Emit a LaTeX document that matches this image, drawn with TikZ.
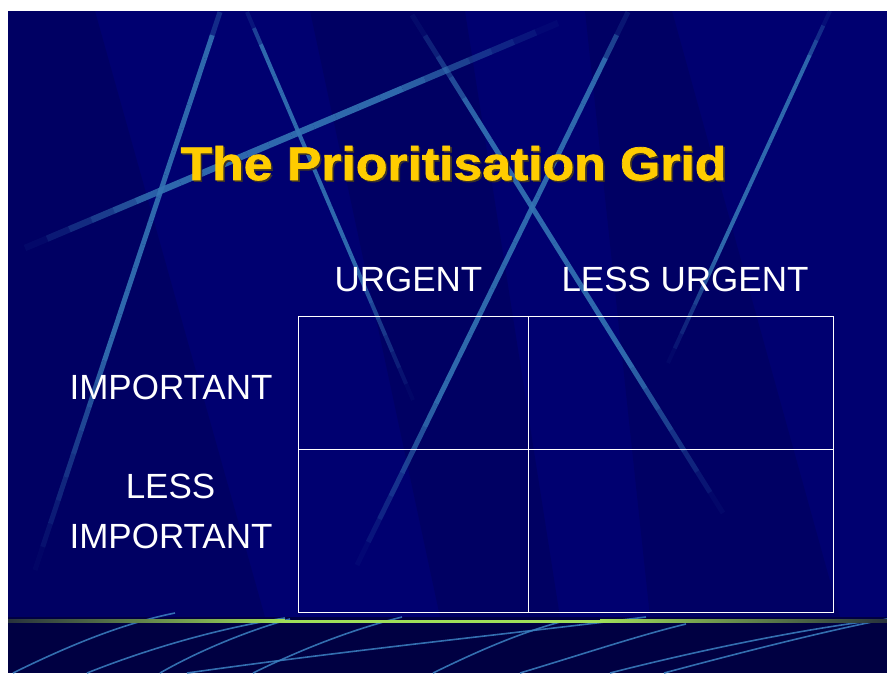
\documentclass[tikz,border=0pt]{standalone}
\usepackage{fontspec}
\setmainfont{Liberation Sans}
\newfontfamily\titlefont[FakeStretch=1.1,BoldFeatures={FakeBold=1.6}]{Liberation Sans}
\usetikzlibrary{calc}
\definecolor{navy}{RGB}{0,0,112}
\definecolor{navydark}{RGB}{0,0,72}
\definecolor{bandcol}{RGB}{0,0,66}
\definecolor{streakcol}{RGB}{52,116,180}
\definecolor{curvecol}{RGB}{60,130,195}
\definecolor{titleyellow}{RGB}{255,204,0}
\definecolor{titleshadow}{RGB}{60,50,40}
\definecolor{greenline}{RGB}{160,222,90}
\definecolor{greendark}{RGB}{40,50,60}
\newcommand\bgstreak[5]{%
  \foreach \i in {0,...,23}{%
    \pgfmathsetmacro\sta{\i/24}%
    \pgfmathsetmacro\stb{(\i+1)/24}%
    \pgfmathsetmacro\sop{0.9*min(1,(\i+0.5)/(24*#4))*min(1,(23.5-\i)/(24*#5))}%
    \draw[streak, line width=#3, draw opacity=\sop] ($#1!\sta!#2$) -- ($#1!\stb!#2$);
  }}
\newcommand\shadowedtitle[1]{\makebox[0pt][l]{\hspace{1.6pt}\raisebox{-1.6pt}{\color{titleshadow}#1}}#1}
\begin{document}
\begin{tikzpicture}[x=1pt,y=-1pt,
  streak/.style={draw=streakcol, line cap=butt},
  curveline/.style={draw=curvecol, line width=1.6pt, draw opacity=0.85},
  cell/.style={draw=white, line width=1pt, inner sep=0pt, outer sep=0pt, anchor=north west},
  label/.style={text=white, font=\fontsize{35}{40}\selectfont, anchor=base, inner sep=0pt},
  titletext/.style={font=\titlefont\bfseries\fontsize{47}{52}\selectfont, anchor=base, inner sep=0pt}]
\useasboundingbox (0,0) rectangle (887,673);
\fill[white] (0,0) rectangle (887,673);
% slide background
\fill[navy] (8,11) rectangle (887,673);
\fill[navydark, opacity=0.3] (8,11) -- (95,11) -- (265,617) -- (8,617) -- cycle;
\fill[navydark, opacity=0.3] (310,11) -- (465,11) -- (560,617) -- (440,617) -- cycle;
\fill[navydark, opacity=0.28] (585,11) -- (672,11) -- (840,617) -- (650,617) -- cycle;
% streaks
\bgstreak{(25,248)}{(558,23)}{6.5pt}{0.25}{0.3}
\bgstreak{(220,12)}{(35,570)}{5pt}{0.05}{0.4}
\bgstreak{(247,12)}{(413,400)}{4pt}{0.1}{0.35}
\bgstreak{(412,15)}{(723,513)}{5pt}{0.2}{0.3}
\bgstreak{(628,12)}{(357,565)}{5pt}{0.1}{0.3}
\bgstreak{(830,11)}{(668,363)}{4pt}{0.15}{0.3}
% bottom band
\fill[bandcol] (8,617) rectangle (887,673);
\begin{scope}
\clip (8,611) rectangle (887,673);
\draw[curveline] (13,673) .. controls (80,640) and (130,622) .. (175,613);
\draw[curveline] (87,673) .. controls (150,648) and (220,628) .. (285,618);
\draw[curveline] (160,673) .. controls (200,650) and (250,630) .. (290,619);
\draw[curveline] (187,673) .. controls (350,650) and (500,635) .. (646,617);
\draw[curveline] (253,673) .. controls (300,650) and (350,630) .. (402,617);
\draw[curveline] (433,673) .. controls (480,650) and (520,633) .. (560,622);
\draw[curveline] (520,673) .. controls (580,655) and (640,635) .. (686,624);
\draw[curveline] (610,673) .. controls (700,650) and (790,632) .. (862,622);
\draw[curveline] (664,673) .. controls (750,650) and (830,630) .. (887,619);
\end{scope}
% green line
\shade[left color=greendark, right color=greenline] (8,619.5) rectangle (285,622.5);
\fill[greenline] (284.5,619.5) rectangle (600.5,622.5);
\shade[left color=greenline, right color=greendark] (600,619.5) rectangle (887,622.5);
% title
\node[titletext, text=titleyellow] (title) at (453.5,180) {\shadowedtitle{The Prioritisation Grid}};
% grid
\node[cell, minimum width=230pt, minimum height=133pt] (c11) at (298,316) {};
\node[cell, minimum width=305pt, minimum height=133pt] (c12) at (528,316) {};
\node[cell, minimum width=230pt, minimum height=163pt] (c21) at (298,449) {};
\node[cell, minimum width=305pt, minimum height=163pt] (c22) at (528,449) {};
% labels
\node[label] (urgent) at (408.5,291) {URGENT};
\node[label] (lessurgent) at (685,291) {LESS URGENT};
\node[label] (important) at (171,399) {IMPORTANT};
\node[label] (less) at (170.5,498) {LESS};
\node[label] (lessimportant) at (171,548) {IMPORTANT};
\end{tikzpicture}
\end{document}
